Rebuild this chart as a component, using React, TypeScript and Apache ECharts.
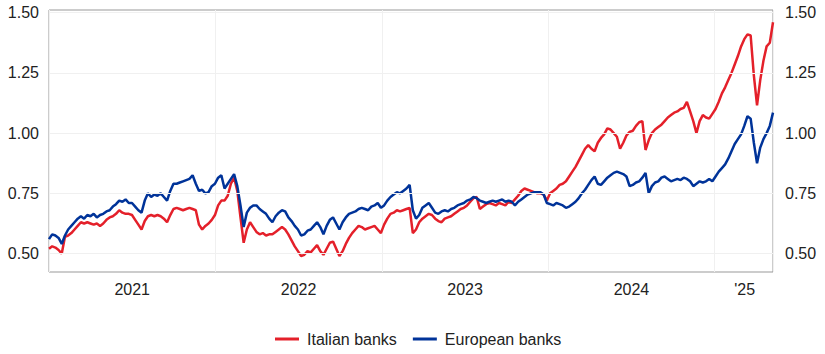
import React, { useEffect, useRef } from "react";
import * as echarts from "echarts";

// Weekly observations starting 2021-01-01
const startDate = "2021-01-01";

const italianBanks: number[] = [
  0.52, 0.53, 0.525, 0.515, 0.50, 0.57, 0.575, 0.585, 0.60, 0.615,
  0.63, 0.625, 0.63, 0.625, 0.62, 0.625, 0.615, 0.625, 0.64, 0.65,
  0.655, 0.665, 0.68, 0.67, 0.665, 0.665, 0.66, 0.64, 0.62, 0.60,
  0.635, 0.655, 0.66, 0.655, 0.66, 0.655, 0.645, 0.63, 0.66, 0.685,
  0.69, 0.685, 0.68, 0.685, 0.69, 0.685, 0.68, 0.62, 0.60, 0.615,
  0.625, 0.64, 0.66, 0.70, 0.72, 0.72, 0.74, 0.79, 0.815, 0.76,
  0.65, 0.545, 0.60, 0.63, 0.61, 0.59, 0.58, 0.585, 0.575, 0.58,
  0.58, 0.59, 0.60, 0.61, 0.60, 0.58, 0.555, 0.53, 0.51, 0.49,
  0.495, 0.51, 0.505, 0.52, 0.535, 0.51, 0.495, 0.52, 0.545, 0.55,
  0.52, 0.49, 0.51, 0.54, 0.565, 0.585, 0.60, 0.615, 0.61, 0.60,
  0.605, 0.61, 0.615, 0.60, 0.585, 0.62, 0.645, 0.665, 0.67, 0.68,
  0.675, 0.68, 0.685, 0.69, 0.585, 0.60, 0.63, 0.645, 0.655, 0.665,
  0.66, 0.645, 0.635, 0.63, 0.645, 0.65, 0.655, 0.665, 0.675, 0.685,
  0.69, 0.70, 0.715, 0.73, 0.735, 0.685, 0.695, 0.705, 0.71, 0.705,
  0.70, 0.71, 0.705, 0.70, 0.715, 0.71, 0.725, 0.74, 0.76, 0.77,
  0.765, 0.76, 0.755, 0.75, 0.75, 0.745, 0.72, 0.75, 0.76, 0.77,
  0.785, 0.79, 0.80, 0.82, 0.84, 0.86, 0.885, 0.91, 0.935, 0.95,
  0.935, 0.925, 0.96, 0.98, 0.995, 1.02, 1.015, 1.00, 0.985, 0.935,
  0.96, 0.99, 1.005, 1.01, 1.03, 1.045, 1.05, 0.93, 0.97, 1.00,
  1.015, 1.025, 1.035, 1.05, 1.065, 1.075, 1.085, 1.09, 1.10, 1.105,
  1.13, 1.09, 1.05, 1.00, 1.05, 1.075, 1.065, 1.06, 1.08, 1.10,
  1.13, 1.165, 1.19, 1.22, 1.25, 1.285, 1.32, 1.36, 1.39, 1.41,
  1.405, 1.24, 1.115, 1.22, 1.30, 1.36, 1.375, 1.46,
];

const europeanBanks: number[] = [
  0.56, 0.58, 0.575, 0.565, 0.54, 0.575, 0.60, 0.615, 0.63, 0.645,
  0.655, 0.645, 0.66, 0.655, 0.665, 0.65, 0.66, 0.665, 0.675, 0.68,
  0.695, 0.705, 0.72, 0.715, 0.725, 0.71, 0.71, 0.695, 0.68, 0.67,
  0.72, 0.75, 0.735, 0.745, 0.74, 0.75, 0.735, 0.72, 0.76, 0.79,
  0.79, 0.795, 0.80, 0.805, 0.81, 0.825, 0.79, 0.76, 0.765, 0.75,
  0.755, 0.78, 0.79, 0.815, 0.825, 0.77, 0.79, 0.81, 0.83, 0.78,
  0.70, 0.61, 0.67, 0.69, 0.70, 0.70, 0.685, 0.675, 0.665, 0.645,
  0.63, 0.655, 0.67, 0.68, 0.675, 0.65, 0.635, 0.615, 0.60, 0.575,
  0.58, 0.595, 0.60, 0.615, 0.63, 0.61, 0.58, 0.615, 0.64, 0.65,
  0.625, 0.60, 0.63, 0.65, 0.665, 0.67, 0.675, 0.685, 0.69, 0.685,
  0.68, 0.695, 0.70, 0.71, 0.69, 0.70, 0.72, 0.735, 0.745, 0.755,
  0.75, 0.76, 0.77, 0.785, 0.68, 0.645, 0.66, 0.69, 0.70, 0.71,
  0.69, 0.67, 0.665, 0.675, 0.68, 0.675, 0.685, 0.69, 0.70, 0.705,
  0.71, 0.72, 0.725, 0.735, 0.73, 0.72, 0.715, 0.71, 0.715, 0.72,
  0.715, 0.72, 0.725, 0.715, 0.72, 0.715, 0.70, 0.715, 0.725, 0.735,
  0.745, 0.75, 0.755, 0.755, 0.755, 0.745, 0.71, 0.705, 0.70, 0.71,
  0.705, 0.70, 0.69, 0.695, 0.705, 0.715, 0.73, 0.75, 0.765, 0.785,
  0.805, 0.82, 0.79, 0.785, 0.80, 0.815, 0.825, 0.835, 0.84, 0.835,
  0.83, 0.82, 0.78, 0.785, 0.795, 0.80, 0.815, 0.835, 0.75, 0.78,
  0.795, 0.80, 0.815, 0.82, 0.81, 0.80, 0.805, 0.81, 0.805, 0.815,
  0.81, 0.80, 0.78, 0.79, 0.80, 0.795, 0.80, 0.81, 0.80, 0.82,
  0.84, 0.855, 0.87, 0.895, 0.925, 0.955, 0.975, 0.995, 1.03, 1.07,
  1.06, 0.96, 0.875, 0.94, 0.975, 1.00, 1.03, 1.085,
];

const yTickValues = [0.5, 0.75, 1.0, 1.25, 1.5];
const xLabelValues = [2021.5, 2022.5, 2023.5, 2024.5, 2025.18];
const xLabelTexts = ["2021", "2022", "2023", "2024", "'25"];

const seriesNames = ["Italian banks", "European banks"];
const RED = "#e4202a";
const BLUE = "#003399";

function toYearFraction(d: Date): number {
  const y = d.getUTCFullYear();
  const s = Date.UTC(y, 0, 1);
  const e = Date.UTC(y + 1, 0, 1);
  return y + (d.getTime() - s) / (e - s);
}

function buildPoints(values: number[]): [number, number][] {
  const base = new Date(startDate + "T00:00:00Z").getTime();
  return values.map((v, i) => {
    const d = new Date(base + i * 7 * 86400000);
    return [toYearFraction(d), v];
  });
}

export default function App() {
  const ref = useRef<HTMLDivElement>(null);

  useEffect(() => {
    document.body.style.margin = "0";
    if (!ref.current) return;
    const chart = echarts.init(ref.current, undefined, { renderer: "svg" });
    const red = buildPoints(italianBanks);
    const blue = buildPoints(europeanBanks);
    const xMin = 2021;
    const xMax = Math.max(red[red.length - 1][0], blue[blue.length - 1][0]);
    const yMin = 0.4236;
    const yMax = 1.511;
    const font = "'Liberation Sans', Arial, sans-serif";
    const labelStyle = { color: "#222", fontSize: 16, fontFamily: font };

    const yAxisBase = {
      type: "value" as const,
      min: yMin,
      max: yMax,
      axisLine: { show: false },
      axisTick: { show: false },
      splitLine: { show: false },
    };

    chart.setOption({
      animation: false,
      backgroundColor: "#fff",
      grid: {
        left: 49,
        right: 52,
        top: 10,
        bottom: 82,
        show: true,
        borderColor: "#999",
        borderWidth: 1,
        containLabel: false,
      },
      legend: {
        data: seriesNames,
        left: 270,
        top: 326,
        icon: "rect",
        itemWidth: 24,
        itemHeight: 3,
        itemGap: 16,
        textStyle: { ...labelStyle, padding: [0, 0, 0, 3] },
      },
      xAxis: {
        type: "value",
        min: xMin,
        max: xMax,
        interval: 1,
        axisLine: { show: false },
        axisTick: { show: false },
        splitLine: { show: true, lineStyle: { color: "#f0f0f0", width: 1 } },
        axisLabel: {
          ...labelStyle,
          margin: 9,
          customValues: xLabelValues,
          formatter: (v: number) => {
            const idx = xLabelValues.findIndex((x) => Math.abs(x - v) < 1e-6);
            return idx >= 0 ? xLabelTexts[idx] : "";
          },
        },
      },
      yAxis: [
        {
          ...yAxisBase,
          position: "left",
          axisLabel: {
            ...labelStyle,
            margin: 10,
            customValues: yTickValues,
            formatter: (v: number) => v.toFixed(2),
          },
        },
        {
          ...yAxisBase,
          position: "right",
          axisLabel: {
            ...labelStyle,
            margin: 12,
            customValues: yTickValues,
            formatter: (v: number) => v.toFixed(2),
          },
        },
      ],
      series: [
        {
          name: "__grid",
          type: "line",
          data: [],
          silent: true,
          markLine: {
            silent: true,
            symbol: "none",
            label: { show: false },
            lineStyle: { color: "#f0f0f0", type: "solid", width: 1 },
            data: yTickValues.map((v) => ({ yAxis: v })),
          },
        },
        {
          name: seriesNames[0],
          type: "line",
          data: red,
          showSymbol: false,
          symbol: "none",
          lineStyle: { color: RED, width: 2.5 },
          itemStyle: { color: RED },
        },
        {
          name: seriesNames[1],
          type: "line",
          data: blue,
          showSymbol: false,
          symbol: "none",
          lineStyle: { color: BLUE, width: 2.5 },
          itemStyle: { color: BLUE },
        },
      ],
    });

    return () => chart.dispose();
  }, []);

  return <div ref={ref} style={{ width: 825, height: 354 }} />;
}
